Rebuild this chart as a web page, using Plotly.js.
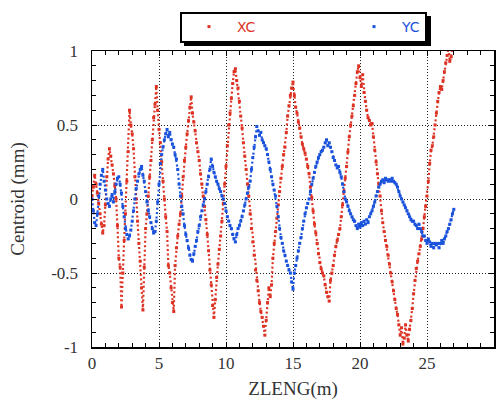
<!DOCTYPE html>
<html>
<head>
<meta charset="utf-8">
<script src="https://cdn.plot.ly/plotly-3.0.1.min.js"></script>
<style>html,body{margin:0;padding:0;background:#fff;}#chart{width:501px;height:400px;}</style>
</head>
<body>
<div id="chart"></div>
<script>
// ZLENG positions (m)
const ZLENG = [
0,0.1,0.2,0.3,0.4,0.5,0.6,0.7,0.8,0.9,
1,1.1,1.2,1.3,1.4,1.5,1.6,1.7,1.8,1.9,
2,2.1,2.2,2.3,2.4,2.5,2.6,2.7,2.8,2.9,
3,3.1,3.2,3.3,3.4,3.5,3.6,3.7,3.8,3.9,
4,4.1,4.2,4.3,4.4,4.5,4.6,4.7,4.8,4.9,
5,5.1,5.2,5.3,5.4,5.5,5.6,5.7,5.8,5.9,
6,6.1,6.2,6.3,6.4,6.5,6.6,6.7,6.8,6.9,
7,7.1,7.2,7.3,7.4,7.5,7.6,7.7,7.8,7.9,
8,8.1,8.2,8.3,8.4,8.5,8.6,8.7,8.8,8.9,
9,9.1,9.2,9.3,9.4,9.5,9.6,9.7,9.8,9.9,
10,10.1,10.2,10.3,10.4,10.5,10.6,10.7,10.8,10.9,
11,11.1,11.2,11.3,11.4,11.5,11.6,11.7,11.8,11.9,
12,12.1,12.2,12.3,12.4,12.5,12.6,12.7,12.8,12.9,
13,13.1,13.2,13.3,13.4,13.5,13.6,13.7,13.8,13.9,
14,14.1,14.2,14.3,14.4,14.5,14.6,14.7,14.8,14.9,
15,15.1,15.2,15.3,15.4,15.5,15.6,15.7,15.8,15.9,
16,16.1,16.2,16.3,16.4,16.5,16.6,16.7,16.8,16.9,
17,17.1,17.2,17.3,17.4,17.5,17.6,17.7,17.8,17.9,
18,18.1,18.2,18.3,18.4,18.5,18.6,18.7,18.8,18.9,
19,19.1,19.2,19.3,19.4,19.5,19.6,19.7,19.8,19.9,
20,20.1,20.2,20.3,20.4,20.5,20.6,20.7,20.8,20.9,
21,21.1,21.2,21.3,21.4,21.5,21.6,21.7,21.8,21.9,
22,22.1,22.2,22.3,22.4,22.5,22.6,22.7,22.8,22.9,
23,23.1,23.2,23.3,23.4,23.5,23.6,23.7,23.8,23.9,
24,24.1,24.2,24.3,24.4,24.5,24.6,24.7,24.8,24.9,
25,25.1,25.2,25.3,25.4,25.5,25.6,25.7,25.8,25.9,
26,26.1,26.2,26.3,26.4,26.5,26.6,26.7,26.8,26.9,
27
];
// XC centroid (mm)
const XC = [
0.02,0.08,0.16,0.1,0.04,-0.03,-0.1,-0.17,-0.23,-0.18,
-0.04,0.15,0.27,0.34,0.29,0.23,0.17,0.09,0.0,-0.18,
-0.4,-0.46,-0.73,-0.5,-0.28,-0.1,0.12,0.32,0.6,0.5,
0.44,0.34,0.15,0.0,-0.15,-0.3,-0.42,-0.6,-0.75,-0.46,
-0.2,-0.1,0.02,0.15,0.26,0.4,0.55,0.64,0.76,0.6,
0.47,0.38,0.25,0.12,0.0,-0.12,-0.22,-0.45,-0.5,-0.6,
-0.7,-0.76,-0.45,-0.33,-0.25,-0.17,-0.1,0.02,0.15,0.26,
0.35,0.44,0.53,0.62,0.69,0.58,0.52,0.46,0.38,0.32,
0.26,0.17,0.1,0.02,-0.05,-0.14,-0.24,-0.35,-0.48,-0.58,
-0.72,-0.8,-0.68,-0.53,-0.44,-0.34,-0.25,-0.15,-0.03,0.1,
0.22,0.36,0.5,0.58,0.68,0.78,0.86,0.88,0.8,0.75,
0.66,0.56,0.48,0.38,0.29,0.2,0.1,0.02,-0.1,-0.2,
-0.29,-0.38,-0.48,-0.55,-0.62,-0.7,-0.76,-0.8,-0.86,-0.92,
-0.82,-0.7,-0.6,-0.66,-0.58,-0.4,-0.3,-0.22,-0.13,-0.04,
0.05,0.14,0.22,0.3,0.35,0.45,0.56,0.63,0.7,0.75,
0.79,0.7,0.62,0.58,0.52,0.48,0.42,0.37,0.34,0.31,
0.27,0.22,0.17,0.08,0.01,-0.08,-0.17,-0.23,-0.3,-0.37,
-0.43,-0.47,-0.5,-0.52,-0.58,-0.63,-0.66,-0.69,-0.55,-0.5,
-0.45,-0.38,-0.32,-0.28,-0.24,-0.2,-0.12,-0.04,0.05,0.14,
0.22,0.32,0.42,0.5,0.56,0.63,0.7,0.78,0.86,0.9,
0.82,0.76,0.84,0.72,0.66,0.6,0.55,0.53,0.5,0.51,
0.42,0.33,0.25,0.17,0.1,0.02,-0.08,-0.16,-0.22,-0.28,
-0.32,-0.38,-0.44,-0.5,-0.56,-0.62,-0.68,-0.74,-0.78,-0.85,
-0.92,-0.87,-0.98,-0.94,-0.85,-0.92,-0.96,-0.88,-0.82,-0.74,
-0.64,-0.55,-0.47,-0.42,-0.37,-0.32,-0.27,-0.2,-0.12,-0.05,
0.02,0.12,0.24,0.33,0.36,0.42,0.5,0.58,0.66,0.72,
0.76,0.74,0.8,0.86,0.92,0.97,1.02,0.93,0.96,1.04,
1.1
];
// YC centroid (mm)
const YC = [
0.0,-0.08,-0.16,-0.18,-0.1,0.02,0.1,0.16,0.2,0.12,
0.06,0.0,-0.03,-0.05,0.0,0.03,-0.02,0.05,0.1,0.14,
0.15,0.1,0.04,-0.05,-0.12,-0.2,-0.24,-0.27,-0.25,-0.21,
-0.15,-0.08,0.0,0.07,0.12,0.17,0.2,0.22,0.16,0.12,
0.05,-0.02,-0.08,-0.12,-0.16,-0.2,-0.23,-0.22,-0.15,-0.02,
0.1,0.24,0.3,0.35,0.4,0.44,0.47,0.42,0.45,0.4,
0.37,0.35,0.3,0.27,0.2,0.1,0.02,-0.05,-0.1,-0.18,
-0.24,-0.28,-0.33,-0.38,-0.41,-0.42,-0.37,-0.32,-0.28,-0.22,
-0.18,-0.12,-0.08,-0.04,0.0,0.05,0.1,0.15,0.2,0.27,
0.22,0.18,0.15,0.12,0.1,0.07,0.05,0.02,0.0,-0.03,
-0.08,-0.12,-0.15,-0.18,-0.2,-0.24,-0.27,-0.29,-0.24,-0.2,
-0.18,-0.15,-0.12,-0.08,-0.04,0.0,0.04,0.08,0.12,0.2,
0.28,0.35,0.42,0.49,0.46,0.43,0.45,0.4,0.38,0.36,
0.34,0.3,0.25,0.2,0.15,0.1,0.06,0.02,-0.05,-0.12,
-0.2,-0.26,-0.3,-0.35,-0.38,-0.42,-0.45,-0.48,-0.5,-0.56,
-0.61,-0.5,-0.45,-0.4,-0.35,-0.3,-0.26,-0.2,-0.15,-0.1,
-0.06,-0.03,0.0,0.05,0.1,0.14,0.18,0.22,0.25,0.28,
0.3,0.32,0.33,0.35,0.38,0.4,0.36,0.38,0.35,0.32,
0.28,0.26,0.23,0.21,0.22,0.18,0.15,0.1,0.05,0.0,
-0.02,-0.05,-0.08,-0.1,-0.12,-0.14,-0.15,-0.18,-0.2,-0.17,
-0.19,-0.16,-0.18,-0.15,-0.17,-0.14,-0.16,-0.12,-0.1,-0.08,
-0.05,-0.02,0.02,0.05,0.08,0.1,0.12,0.13,0.11,0.14,
0.13,0.12,0.13,0.12,0.14,0.12,0.11,0.1,0.08,0.05,
0.02,0.0,-0.02,-0.04,-0.06,-0.08,-0.1,-0.12,-0.14,-0.15,
-0.15,-0.17,-0.18,-0.2,-0.17,-0.2,-0.22,-0.25,-0.25,-0.28,
-0.3,-0.27,-0.29,-0.32,-0.3,-0.33,-0.3,-0.31,-0.3,-0.33,
-0.3,-0.28,-0.3,-0.27,-0.25,-0.22,-0.2,-0.17,-0.14,-0.1,
-0.07
];
const SERIES_NAMES = ['XC', 'YC'];
const Y_TICKS = [-1, -0.5, 0, 0.5, 1];
const Y_TICK_LABELS = ['-1', '-0.5', '0', '0.5', '1'];

const RED = '#dd3324';
const BLUE = '#1a52dc';
const SERIF = 'Times New Roman';

function dotted(y, color) {
  return {x: ZLENG, y: y, type: 'scatter', mode: 'lines', showlegend: false,
    hoverinfo: 'skip', line: {color: color, width: 2.2, dash: '2px,2.5px'}};
}
function points(y, color, name, legendId) {
  return {x: ZLENG, y: y, type: 'scatter', mode: 'markers', legend: legendId,
    name: '<span style="color:' + color + '">' + name + '</span>',
    marker: {color: color, size: 3, symbol: 'square', line: {width: 0}}};
}

const data = [
  dotted(XC, RED), dotted(YC, BLUE),
  points(XC, RED, SERIES_NAMES[0], 'legend'), points(YC, BLUE, SERIES_NAMES[1], 'legend2')
];

const PX = p => (p - 92) / 402;
const PY = p => (347 - p) / 296;

const layout = {
  width: 501, height: 400,
  margin: {l: 92, r: 7, t: 51, b: 53},
  paper_bgcolor: '#fff', plot_bgcolor: '#fff',
  font: {family: SERIF, color: '#333'},
  xaxis: {
    showline: true, linecolor: '#000', linewidth: 1.5, mirror: 'ticks',
    ticks: 'inside', ticklen: 5, tickwidth: 1, tickcolor: '#000',
    showgrid: true, gridcolor: '#222', gridwidth: 1, griddash: '1px,2px',
    zeroline: false,
    tickfont: {family: SERIF, size: 17},
    range: [0, 30], dtick: 5, tick0: 0,
    minor: {dtick: 1, ticks: 'inside', ticklen: 4, tickcolor: '#000', showgrid: false},
    title: {text: 'ZLENG(m)', font: {family: SERIF, size: 19}, standoff: 16}
  },
  yaxis: {
    showline: true, linecolor: '#000', linewidth: 1.5, mirror: 'ticks',
    ticks: 'inside', ticklen: 5, tickwidth: 1, tickcolor: '#000',
    showgrid: true, gridcolor: '#222', gridwidth: 1, griddash: '1px,2px',
    zeroline: false,
    tickfont: {family: SERIF, size: 17},
    range: [-1, 1], tickmode: 'array', tickvals: Y_TICKS, ticktext: Y_TICK_LABELS,
    minor: {dtick: 0.1, tick0: 0, ticks: 'inside', ticklen: 4, tickcolor: '#000', showgrid: false},
    ticklabelstandoff: 9,
    title: {text: 'Centroid (mm)', font: {family: SERIF, size: 19}, standoff: 21}
  },
  legend: {
    orientation: 'h', xanchor: 'left', yanchor: 'middle', y: PY(27), x: PX(181),
    bgcolor: 'rgba(0,0,0,0)', borderwidth: 0, itemwidth: 46,
    font: {family: 'DejaVu Sans', size: 14}
  },
  legend2: {
    orientation: 'h', xanchor: 'left', yanchor: 'middle', y: PY(27), x: PX(346),
    bgcolor: 'rgba(0,0,0,0)', borderwidth: 0, itemwidth: 46,
    font: {family: 'DejaVu Sans', size: 14}
  },
  shapes: [
    {type: 'rect', xref: 'paper', yref: 'paper', layer: 'above',
     x0: PX(184), x1: PX(431), y0: PY(46), y1: PY(16),
     fillcolor: '#000', line: {width: 0}},
    {type: 'rect', xref: 'paper', yref: 'paper', layer: 'above',
     x0: PX(181), x1: PX(426), y0: PY(42), y1: PY(13),
     fillcolor: '#fff', line: {width: 2, color: '#000'}}
  ],
  showlegend: true
};

Plotly.newPlot('chart', data, layout, {displayModeBar: false, staticPlot: true});
</script>
</body>
</html>
